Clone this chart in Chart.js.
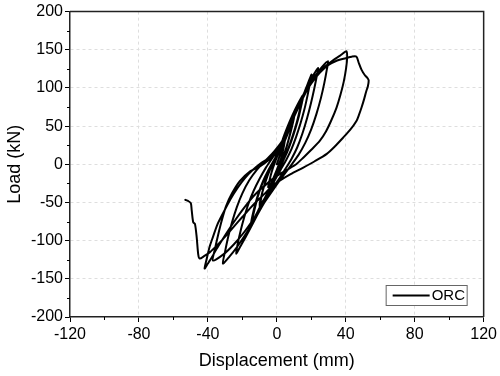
<!DOCTYPE html>
<html>
<head>
<meta charset="utf-8">
<script src="https://cdn.jsdelivr.net/npm/chart.js@4.4.0/dist/chart.umd.min.js"></script>
<style>
  html, body { margin: 0; padding: 0; background: #fff; }
</style>
</head>
<body>
<canvas id="loopChart" width="500" height="376"></canvas>
<script>
// ORC specimen, [displacement mm, load kN], one list per loading cycle
const cycle1 = [[0,0],[1.5,10],[3,21],[4.2,29],[5,35],[4.6,30],[3.8,20],[2.5,8],[1.2,0],[-0.5,-10],[-2,-18],[-3.5,-25],[-5,-30],[-4.6,-25],[-3.6,-15],[-2.3,-5],[-1,3],[0.5,12]];
const cycle2 = [[2,20],[4,33],[6,45],[8,56],[10,65],[9.4,58],[8.3,46],[6.8,32],[5,18],[3,5],[1,-8],[-1.5,-22],[-4,-33],[-6.5,-43],[-8.5,-50],[-10,-55],[-9.4,-48],[-8.3,-36],[-6.8,-24],[-5,-12],[-3,-1],[-1,8],[1,18]];
const cycle2b = [[3,26],[5.5,40],[8,54],[10,62],[9.3,54],[8,42],[6.3,28],[4.5,15],[2.5,2],[0.3,-11],[-2.5,-26],[-5.5,-39],[-8,-48],[-10,-53],[-9.3,-45],[-8,-33],[-6.3,-21],[-4.3,-9],[-2.2,1],[0,10],[2,20]];
const cycle3 = [[3.5,33],[6,48],[9,64],[12,78],[15,90],[14.3,82],[13,68],[11.2,52],[9,36],[6.5,20],[4,6],[1.5,-6],[-1.5,-20],[-5,-36],[-8.5,-52],[-12,-68],[-15,-82],[-14.2,-72],[-12.8,-58],[-11,-42],[-8.5,-26],[-5.5,-11],[-2.5,2],[0.5,14],[3.5,28]];
const cycle3b = [[6.5,46],[9.5,62],[12.5,76],[15,86],[14.2,77],[12.8,63],[10.8,47],[8.5,31],[6,16],[3.3,3],[0.5,-10],[-3,-26],[-6.5,-42],[-10,-57],[-13,-70],[-15,-78],[-14.1,-67],[-12.5,-52],[-10.5,-37],[-8,-22],[-5,-8],[-2,4],[1.5,17],[5,34]];
const cycle4 = [[7,48],[10.5,66],[14,83],[17,100],[20.1,117.5],[19.2,106],[17.8,90],[16,72],[13.8,54],[11.2,36],[8.5,20],[5.5,6],[2.5,-6],[-1,-20],[-5,-38],[-9.5,-58],[-14,-78],[-18,-95],[-21,-107],[-23.6,-117],[-22.6,-103],[-21,-87],[-19,-70],[-16.5,-52],[-13.5,-35],[-10,-19],[-6.5,-5],[-3,7],[0.5,19],[4,33],[8,52],[12,74],[16,94],[20,112],[23.9,126]];
const cycle5 = [[23.2,116],[21.8,100],[19.8,80],[17.5,60],[14.8,40],[11.8,22],[8.5,7],[5,-6],[1,-20],[-3.5,-36],[-8.5,-55],[-13.5,-75],[-18.5,-93],[-23,-108],[-27.5,-121],[-31.3,-130],[-30,-114],[-28.2,-95],[-26,-76],[-23.2,-56],[-20,-38],[-16,-21],[-11.5,-7],[-6.5,5],[-1.5,17],[3,30],[7.5,50],[12,72],[17,95],[22,115],[26,127],[29.7,135]];
const cycle6 = [[29,124],[27.6,107],[25.6,87],[23,66],[20,46],[16.5,28],[12.5,12],[8,-2],[3,-17],[-2,-33],[-7.5,-51],[-13,-70],[-19,-89],[-25,-105],[-31,-118],[-37.1,-126],[-35.8,-110],[-34,-92],[-32,-74],[-29.5,-55],[-26,-38],[-21.5,-22],[-16,-10],[-10,-3],[-4,7],[1,18],[5,34],[9,56],[13,80],[18,101],[23,117],[28,128],[33,137],[36.5,142],[40.4,148]];
const cycle7 = [[40.8,140],[40.2,126],[38.8,108],[36.8,90],[34.6,74],[31.5,57],[28.5,43],[24.9,30.6],[20,19],[15.5,9],[11.4,0.3],[6.5,-6.5],[1.7,-12.8],[-3,-20],[-7,-28],[-11.5,-37],[-15.7,-47.5],[-20,-60],[-24.3,-73.6],[-28.3,-87],[-31.9,-99.7],[-35,-111],[-37.7,-121.8],[-40,-130],[-41.9,-136.5],[-40.5,-122],[-39,-108],[-37.1,-95.4],[-34.5,-79],[-31.3,-64.5],[-27,-46],[-22.6,-30.2],[-18.5,-18],[-14.5,-8.5],[-9.5,1],[-4.1,9],[1.7,20],[4.5,30],[7.5,47],[11,68],[15,88],[20,106],[25,120],[30,130],[35,136],[40,139],[43.5,141],[46.2,141]];
const cycle8 = [[47.5,133],[49.1,124],[51,117],[52.6,113],[53.3,109.7],[52.8,102],[51.9,95.8],[50.6,85],[49.1,74],[47.7,65],[46.2,56.7],[42.5,45],[38.3,34.5],[33.5,23],[29,13.7],[22,4],[15.1,-4.6],[8,-13],[1.7,-21.5],[-3,-29],[-7,-38.4],[-11.5,-48],[-15.7,-58],[-20,-69],[-24.3,-80],[-28.3,-90.5],[-31.9,-99.7],[-35.5,-108],[-38.8,-115],[-42,-120],[-44.8,-123.5],[-45.6,-118],[-46.5,-95.4],[-47.5,-78],[-48.5,-76],[-49.4,-60],[-49.9,-51],[-51.5,-48],[-53.1,-46.5]];

const seriesName = 'ORC';
const xLimits = [-120, 120];
const yLimits = [-200, 200];
const xStep = 40;
const yStep = 50;

const FONT = '"Liberation Sans", Arial, sans-serif';

const points = [cycle1, cycle2, cycle2b, cycle3, cycle3b, cycle4, cycle5, cycle6, cycle7, cycle8]
  .flat()
  .map(p => ({ x: p[0], y: p[1] }));

// grid only inside the plot, not on the frame
const gridColor = (ctx) => {
  const v = ctx.tick ? ctx.tick.value : null;
  const s = ctx.scale;
  if (v === s.min || v === s.max) return 'rgba(0,0,0,0)';
  return '#dedede';
};

// frame on top/right plus the small in-between ticks
const frameAndMinor = {
  id: 'frameAndMinor',
  afterDraw(chart) {
    const { ctx, chartArea: a, scales } = chart;
    ctx.save();
    ctx.strokeStyle = '#222';
    ctx.lineWidth = 1.5;
    ctx.beginPath();
    ctx.moveTo(a.left, a.top);
    ctx.lineTo(a.right, a.top);
    ctx.lineTo(a.right, a.bottom);
    ctx.stroke();

    ctx.lineWidth = 1;
    ctx.strokeStyle = '#000';
    const xt = scales.x.ticks;
    for (let i = 0; i < xt.length - 1; i++) {
      const px = Math.round(scales.x.getPixelForValue((xt[i].value + xt[i + 1].value) / 2)) + 0.5;
      ctx.beginPath();
      ctx.moveTo(px, a.bottom);
      ctx.lineTo(px, a.bottom + 3);
      ctx.stroke();
    }
    const yt = scales.y.ticks;
    for (let i = 0; i < yt.length - 1; i++) {
      const py = Math.round(scales.y.getPixelForValue((yt[i].value + yt[i + 1].value) / 2)) + 0.5;
      ctx.beginPath();
      ctx.moveTo(a.left - 3, py);
      ctx.lineTo(a.left, py);
      ctx.stroke();
    }
    ctx.restore();
  }
};

// boxed legend in the lower right corner of the plot
const boxLegend = {
  id: 'boxLegend',
  afterDraw(chart) {
    const { ctx, chartArea: a } = chart;
    const w = 81, h = 20;
    const bx = a.right - 17 - w;
    const by = a.bottom - 12 - h;
    ctx.save();
    ctx.fillStyle = '#fff';
    ctx.fillRect(bx, by, w, h);
    ctx.strokeStyle = '#666';
    ctx.lineWidth = 1;
    ctx.strokeRect(bx + 0.5, by + 0.5, w, h);
    ctx.strokeStyle = '#000';
    ctx.lineWidth = 2;
    ctx.beginPath();
    ctx.moveTo(bx + 7, by + h / 2 + 0.5);
    ctx.lineTo(bx + 44, by + h / 2 + 0.5);
    ctx.stroke();
    ctx.fillStyle = '#000';
    ctx.font = '15px ' + FONT;
    ctx.textBaseline = 'middle';
    ctx.fillText(chart.data.datasets[0].label, bx + 46, by + h / 2 + 1);
    ctx.restore();
  }
};

new Chart(document.getElementById('loopChart'), {
  type: 'scatter',
  data: {
    datasets: [{
      label: seriesName,
      data: points,
      showLine: true,
      borderColor: '#000',
      borderWidth: 2,
      pointRadius: 0,
      tension: 0.25,
      borderJoinStyle: 'round',
      borderCapStyle: 'round'
    }]
  },
  options: {
    responsive: false,
    animation: false,
    layout: { padding: { top: 9, right: 14, left: 0, bottom: 0 } },
    plugins: {
      legend: { display: false },
      tooltip: { enabled: false }
    },
    scales: {
      x: {
        type: 'linear',
        min: xLimits[0],
        max: xLimits[1],
        afterFit: (s) => { s.height = 59; },
        ticks: {
          stepSize: xStep,
          autoSkip: false,
          maxRotation: 0,
          padding: 3,
          color: '#000',
          font: { family: FONT, size: 16 }
        },
        grid: { color: gridColor, lineWidth: 1, tickColor: '#000', tickLength: 5, tickWidth: 1 },
        border: { color: '#222', width: 1.5, dash: [3, 3] },
        title: { display: true, text: 'Displacement (mm)', color: '#000', font: { family: FONT, size: 18 }, padding: { top: 4, bottom: 4 } }
      },
      y: {
        type: 'linear',
        min: yLimits[0],
        max: yLimits[1],
        afterFit: (s) => { s.width = 70; },
        ticks: {
          stepSize: yStep,
          padding: 2,
          color: '#000',
          font: { family: FONT, size: 16 }
        },
        grid: { color: gridColor, lineWidth: 1, tickColor: '#000', tickLength: 5, tickWidth: 1 },
        border: { color: '#222', width: 1.5, dash: [3, 3] },
        title: { display: true, text: 'Load (kN)', color: '#000', font: { family: FONT, size: 18 }, padding: { top: 4, bottom: 4 } }
      }
    }
  },
  plugins: [frameAndMinor, boxLegend]
});
</script>
</body>
</html>
